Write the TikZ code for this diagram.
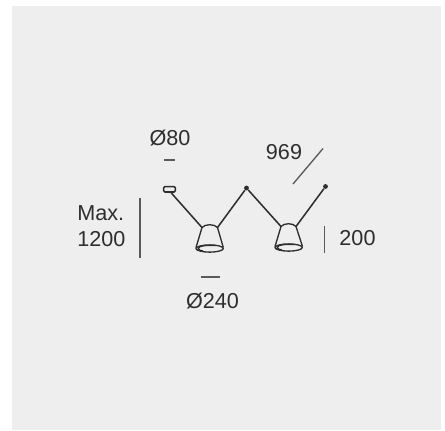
\documentclass[tikz,border=0pt]{standalone}
\usepackage{fontspec}
\setmainfont{Liberation Sans}
\definecolor{bgc}{HTML}{EEEEEE}
\definecolor{ink}{HTML}{2E2E2E}
\definecolor{dim}{HTML}{5A5A5A}
\tikzset{
  lbl/.style={font=\fontsize{16.2pt}{19.5pt}\selectfont, text=ink, inner sep=0pt, align=left},
  dimline/.style={draw=dim, line width=1pt},
  wire/.style={draw=ink, line width=1.15pt},
  shade/.style={draw=ink, line width=1pt, line join=round},
  joint/.style={circle, fill=ink, inner sep=0pt, minimum size=3.6pt}
}
\begin{document}
\begin{tikzpicture}[x=0.75pt,y=-0.75pt]
\useasboundingbox (0,0) rectangle (445,430);
\fill[white] (0,0) rectangle (445,430);
\fill[bgc] (12,6) rectangle (441,429.5);
% labels
\node[lbl] (d80) at (170,138) {Ø80};
\node[lbl] (l969) at (284,152) {969};
\node[lbl, anchor=west] (lmax) at (77,226) {Max.\\1200};
\node[lbl] (l200) at (357.5,238) {200};
\node[lbl] (d240) at (212.5,301) {Ø240};
% dimension lines
\coordinate (a1) at (164,160); \coordinate (a2) at (175,160);
\coordinate (b1) at (293,184); \coordinate (b2) at (323,148.5);
\coordinate (c1) at (140,197.5); \coordinate (c2) at (140,258);
\coordinate (e1) at (324.5,225.5); \coordinate (e2) at (324.5,252.5);
\coordinate (f1) at (201,277); \coordinate (f2) at (220,277);
\draw[dimline] (a1) -- (a2);
\draw[dimline] (b1) -- (b2);
\draw[dimline] (c1) -- (c2);
\draw[dimline] (e1) -- (e2);
\draw[dimline] (f1) -- (f2);
% wires end points
\node[joint, minimum size=2.8pt] (s0) at (170,191.5) {};
\node[joint] (j1) at (246.5,188) {};
\node[joint] (j2) at (325.5,186.5) {};
\coordinate (p1l) at (202,227.5); \coordinate (p1r) at (217.5,227.5);
\coordinate (p2l) at (281,226.5); \coordinate (p2r) at (296,226.5);
% canopy
\node[draw=ink, line width=1.2pt, rounded corners=1pt, minimum width=8.8pt, minimum height=4pt, inner sep=0pt, fill=bgc] (canopy) at (169.5,189.3) {};
% wires
\draw[wire] (s0) -- (p1l);
\draw[wire] (p1r) -- (j1);
\draw[wire] (j1) -- (p2l);
\draw[wire] (p2r) -- (j2);
% lamp 1
\draw[shade] (196,247.5) -- (p1l) .. controls (205,223.8) and (214.5,223.8) .. (p1r) -- (223.3,247.5);
\draw[shade] (209.7,248.5) ellipse [x radius=13.6, y radius=3.6];
\draw[shade] (216,245.5) .. controls (205,245) and (198,246) .. (198.5,248.5) .. controls (198.5,250) and (200,250.5) .. (203,251);
\draw[shade] (196,247.5) .. controls (195.3,249) and (197,250) .. (199,250.3);
% lamp 2
\draw[shade] (275,246.5) -- (p2l) .. controls (284,222.8) and (293,222.8) .. (p2r) -- (302.5,246.5);
\draw[shade] (288.7,247.5) ellipse [x radius=13.6, y radius=3.6];
\draw[shade] (295,244.5) .. controls (284,244) and (277,245) .. (277.5,247.5) .. controls (277.5,249) and (279,249.5) .. (282,250);
\draw[shade] (275,246.5) .. controls (274.3,248) and (276,249) .. (278,249.3);
\end{tikzpicture}
\end{document}
